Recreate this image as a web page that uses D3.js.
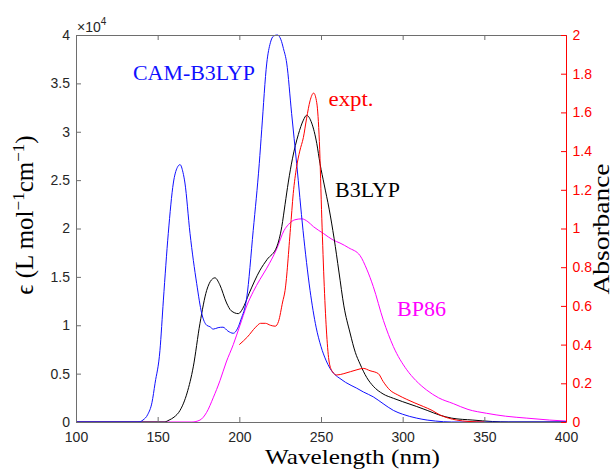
<!DOCTYPE html>
<meta charset="utf-8">
<style>
  body { margin: 0; background: #fff; }
  .tick text { font-family: "Liberation Sans", Arial, sans-serif; font-size: 14px; }
  .lab { font-family: "Liberation Serif", "Times New Roman", serif; }
  .curve { fill: none; stroke-width: 1; }
</style>
<svg width="614" height="469"></svg>
<script src="https://cdn.jsdelivr.net/npm/d3@7"></script>
<script>
  // tick labels
  var xTicks = [100, 150, 200, 250, 300, 350, 400];
  var leftTicks = [0, 0.5, 1, 1.5, 2, 2.5, 3, 3.5, 4];      // x10^4
  var rightTicks = [0, 0.2, 0.4, 0.6, 0.8, 1, 1.2, 1.4, 1.6, 1.8, 2];

  // CAM-B3LYP (epsilon, units of 10^4)
  var camWl = [100,138,141,144,146.5,148.4,151.4,153.5,156.5,159.6,162,163.7,165.5,166.7,169.8,173.9,177,180,182,184,187,190,193,196.3,199,201,204.5,208.5,212.2,213.7,216.8,219,221,223.3,225.5,227,229,232,235.1,239,243.3,247,250,253,255.5,258.5,261.6,265,271.8,276,282,288,294.3,300,308.6,315,320,330,400];
  var camVal = [0,0,0.02,0.08,0.2,0.4,0.74,1.26,1.95,2.47,2.63,2.66,2.58,2.47,1.95,1.43,1.12,1.0,0.985,0.96,0.975,0.98,0.94,0.917,0.97,1.06,1.28,1.98,2.67,3.02,3.71,3.92,3.99,4.0,3.95,3.86,3.71,3.19,2.67,1.98,1.36,0.98,0.78,0.64,0.555,0.49,0.45,0.41,0.35,0.31,0.26,0.19,0.12,0.08,0.04,0.02,0.01,0,0];

  // B3LYP
  var b3Wl = [100,154,157,160,163.7,168,171.8,175.9,180,183,185.1,188,192.2,195,199.4,202,206,212.7,217,222.9,226,228,230,232.5,236.1,239.2,241.2,244.3,247.4,249.4,252,255,258,261,264,267.8,271,273.9,278,282,288,294.3,300,308.6,315,322.9,330,343,355,365,400];
  var b3Val = [0,0,0.02,0.05,0.12,0.3,0.57,1.02,1.36,1.47,1.49,1.42,1.23,1.15,1.12,1.17,1.33,1.57,1.68,1.81,2.02,2.25,2.48,2.72,2.97,3.12,3.17,3.09,2.88,2.67,2.45,2.2,1.9,1.55,1.2,0.92,0.72,0.6,0.46,0.37,0.29,0.245,0.21,0.16,0.12,0.07,0.04,0.02,0.005,0,0];

  // BP86
  var bpWl = [100,171,175.9,180,184,188.2,192,196.3,200.4,204.5,208.6,212.5,216.8,222.9,227.4,230,234,238.2,242,245.3,251.4,257.5,261.6,267,273.9,278,282,288.2,294.3,302.5,308,314.7,322,331,340,351.4,363,376,390,400];
  var bpVal = [0,0,0.02,0.1,0.25,0.43,0.62,0.8,1.0,1.2,1.35,1.47,1.59,1.79,1.98,2.04,2.09,2.1,2.07,2.02,1.95,1.88,1.85,1.8,1.72,1.58,1.4,1.05,0.78,0.54,0.43,0.33,0.25,0.19,0.13,0.09,0.06,0.04,0.02,0.01];

  // experiment (absorbance, right axis)
  var exWl = [200,205,210,213,216,219,222,224,226.5,228,231.3,233,235.1,237,239.2,241.2,243.3,245.5,247.4,249,250.5,252,253.5,255,257,259.6,264,268,272,275.9,280,285.1,288,292.2,297,302.5,307,312.7,318,322.9,328,333.1,340,350];
  var exVal = [0.4,0.44,0.49,0.51,0.51,0.5,0.495,0.52,0.62,0.68,1.0,1.18,1.32,1.4,1.47,1.57,1.66,1.7,1.65,1.45,1.05,0.7,0.45,0.31,0.26,0.243,0.25,0.26,0.27,0.277,0.265,0.25,0.21,0.165,0.14,0.117,0.1,0.08,0.06,0.036,0.02,0.01,0.003,0];

  var svg = d3.select("svg");
  var pL = 76, pR = 566, pT = 35, pB = 422;

  var x = d3.scaleLinear().domain([100, 400]).range([pL, pR]);
  var yL = d3.scaleLinear().domain([0, 4]).range([pB, pT]);
  var yR = d3.scaleLinear().domain([0, 2]).range([pB, pT]);

  svg.append("clipPath").attr("id", "clip")
    .append("rect").attr("x", pL).attr("y", pT - 1)
    .attr("width", pR - pL).attr("height", pB - pT + 2);

  function zip(a, b) { return a.map(function(d, i) { return [d, b[i]]; }); }

  var lineL = d3.line().curve(d3.curveMonotoneX)
    .x(function(d) { return x(d[0]); }).y(function(d) { return yL(d[1]); });
  var lineR = d3.line().curve(d3.curveMonotoneX)
    .x(function(d) { return x(d[0]); }).y(function(d) { return yR(d[1]); });

  var plot = svg.append("g").attr("clip-path", "url(#clip)");
  plot.append("path").attr("class", "curve").attr("stroke", "#ff00ff").attr("d", lineL(zip(bpWl, bpVal)));
  plot.append("path").attr("class", "curve").attr("stroke", "#000").attr("d", lineL(zip(b3Wl, b3Val)));
  plot.append("path").attr("class", "curve").attr("stroke", "#1010ff").attr("d", lineL(zip(camWl, camVal)));
  plot.append("path").attr("class", "curve").attr("stroke", "#ff0000").attr("d", lineR(zip(exWl, exVal)));

  // axes, box style with inward ticks
  var fmt = function(d) { return String(d); };
  var gB = svg.append("g").attr("transform", "translate(0," + pB + ")")
    .call(d3.axisBottom(x).tickValues(xTicks).tickFormat(fmt).tickSizeInner(-5).tickSizeOuter(0).tickPadding(10));
  var gT = svg.append("g").attr("transform", "translate(0," + pT + ")")
    .call(d3.axisTop(x).tickValues(xTicks).tickFormat("").tickSizeInner(-5).tickSizeOuter(0));
  var gL = svg.append("g").attr("transform", "translate(" + pL + ",0)")
    .call(d3.axisLeft(yL).tickValues(leftTicks).tickFormat(fmt).tickSizeInner(-5).tickSizeOuter(0).tickPadding(6));
  var gR = svg.append("g").attr("transform", "translate(" + pR + ",0)")
    .call(d3.axisRight(yR).tickValues(rightTicks).tickFormat(fmt).tickSizeInner(-5).tickSizeOuter(0).tickPadding(6.5));

  [gB, gT, gL].forEach(function(g) {
    g.select(".domain").attr("stroke", "#6e6e6e");
    g.selectAll(".tick line").attr("stroke", "#6e6e6e");
    g.selectAll(".tick text").attr("fill", "#262626");
  });
  gR.select(".domain").attr("stroke", "#ff0000");
  gR.selectAll(".tick line").attr("stroke", "#ff0000");
  gR.selectAll(".tick text").attr("fill", "#ff0000");

  // exponent marker
  var ex = svg.append("text").attr("x", pL + 1).attr("y", 32)
    .attr("font-family", "Liberation Sans, Arial, sans-serif").attr("font-size", 14).attr("fill", "#262626");
  ex.append("tspan").text("\u00d710");
  ex.append("tspan").attr("font-size", 10).attr("dy", -7).text("4");

  // axis titles
  svg.append("text").attr("class", "lab").attr("x", 265).attr("y", 464)
    .attr("font-size", 22).attr("textLength", 175).attr("lengthAdjust", "spacingAndGlyphs")
    .text("Wavelength (nm)");

  var yt = svg.append("text").attr("class", "lab")
    .attr("transform", "translate(33,215) rotate(-90)")
    .attr("text-anchor", "middle").attr("font-size", 25);
  yt.append("tspan").text("\u03f5 (L mol");
  yt.append("tspan").attr("font-size", 17).attr("dy", -9).text("\u22121");
  yt.append("tspan").attr("dy", 9).text("cm");
  yt.append("tspan").attr("font-size", 17).attr("dy", -9).text("\u22121");
  yt.append("tspan").attr("dy", 9).text(")");

  svg.append("text").attr("class", "lab")
    .attr("transform", "translate(609,229) rotate(-90)")
    .attr("text-anchor", "middle").attr("font-size", 24)
    .attr("textLength", 131).attr("lengthAdjust", "spacingAndGlyphs")
    .text("Absorbance");

  // curve labels
  var labels = [
    {t: "CAM-B3LYP", x: 133, y: 80, w: 122, c: "#1010ff"},
    {t: "expt.", x: 328.5, y: 106, w: 45, c: "#ff0000"},
    {t: "B3LYP", x: 335, y: 197, w: 65, c: "#000"},
    {t: "BP86", x: 397, y: 316, w: 49, c: "#ff00ff"}
  ];
  svg.selectAll(".clab").data(labels).enter().append("text")
    .attr("class", "lab clab")
    .attr("x", function(d) { return d.x; }).attr("y", function(d) { return d.y; })
    .attr("font-size", 21).attr("fill", function(d) { return d.c; })
    .attr("textLength", function(d) { return d.w; }).attr("lengthAdjust", "spacingAndGlyphs")
    .text(function(d) { return d.t; });
</script>
